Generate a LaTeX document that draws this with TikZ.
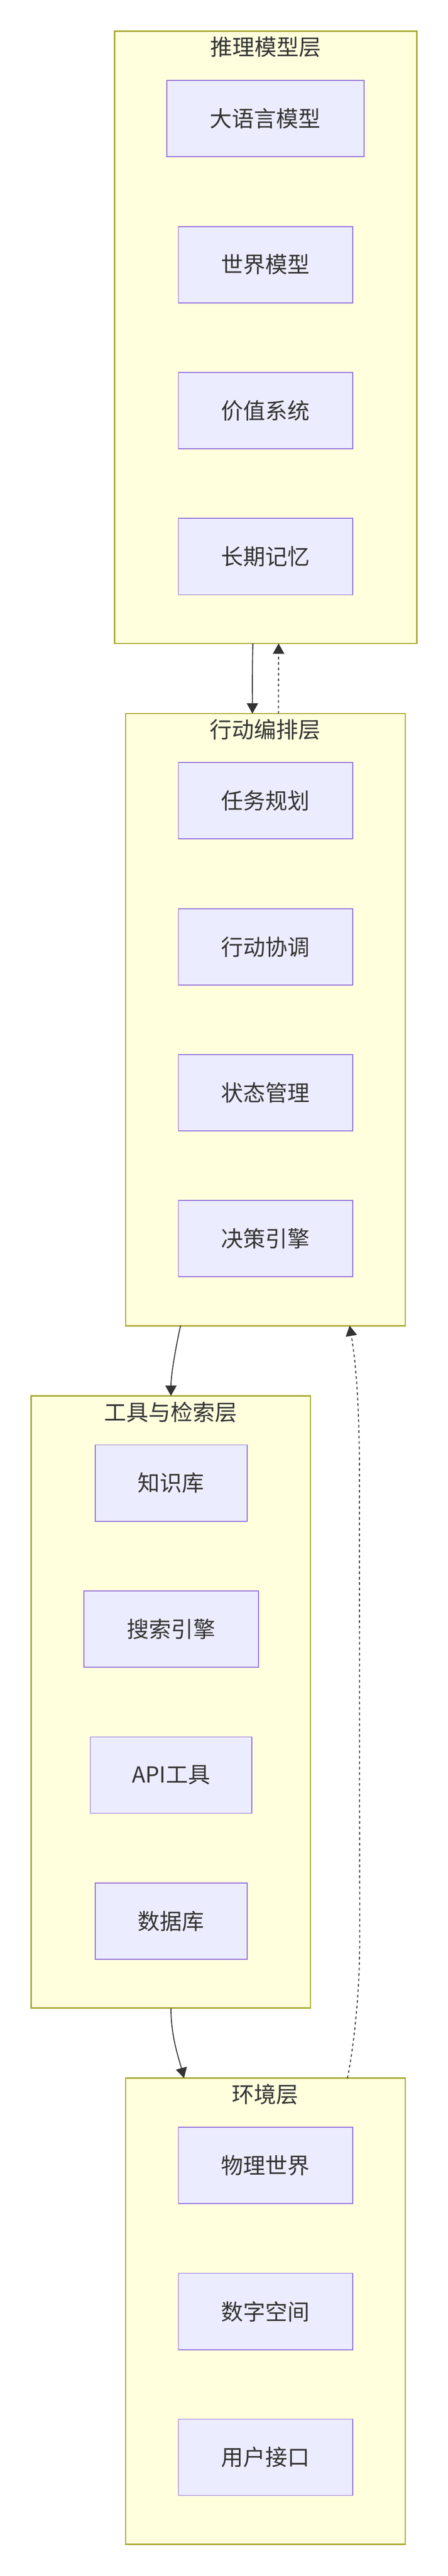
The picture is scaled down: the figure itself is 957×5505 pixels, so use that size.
\documentclass[tikz,border=0pt]{standalone}
\usepackage{fontspec}
\setmainfont{Noto Sans CJK SC}
\usetikzlibrary{calc,arrows.meta}
\definecolor{clfill}{HTML}{FFFFDE}
\definecolor{cldraw}{HTML}{AAAA33}
\definecolor{ndfill}{HTML}{ECECFF}
\definecolor{nddraw}{HTML}{9370DB}
\definecolor{txt}{HTML}{333333}
\definecolor{ln}{HTML}{333333}
\begin{document}
\begin{tikzpicture}[x=0.75pt,y=-0.75pt,
  every node/.style={inner sep=0pt,outer sep=0pt,text=txt,font=\fontsize{35.5pt}{40pt}\selectfont},
  cluster/.style={draw=cldraw,fill=clfill,line width=2.25pt,rectangle,minimum width={#1*0.75pt}},
  cltitle/.style={anchor=center},
  box/.style={draw=nddraw,fill=ndfill,line width=1.5pt,rectangle,minimum height={163*0.75pt},minimum width={#1*0.75pt}},
  edge/.style={draw=ln,line width=1.5pt,-{Triangle[length=16.5pt,width=18pt]}},
  dotedge/.style={edge,dash pattern=on 4.2pt off 4.5pt}
]
\useasboundingbox[fill=white] (0,0) rectangle (957,5505);

% clusters
\node[cluster=646,minimum height={1308*0.75pt}] (c1) at (568,721) {};
\node[cluster=598,minimum height={1308*0.75pt}] (c2) at (567.5,2179) {};
\node[cluster=597,minimum height={1308.5*0.75pt}] (c3) at (365.5,3637.2) {};
\node[cluster=598,minimum height={996*0.75pt}] (c4) at (567.5,4939) {};

\node[cltitle] (t1) at (568,100.5) {推理模型层};
\node[cltitle] (t2) at (567.5,1559) {行动编排层};
\node[cltitle] (t3) at (365.5,3017.5) {工具与检索层};
\node[cltitle] (t4) at (567.5,4475.5) {环境层};

% layer 1
\node[box=421] (llm) at (567.5,253.5) {大语言模型};
\node[box=373] (wm) at (568,565.5) {世界模型};
\node[box=373] (vs) at (568,877.7) {价值系统};
\node[box=373] (lm) at (568,1189.5) {长期记忆};

% layer 2
\node[box=373] (tp) at (568,1711) {任务规划};
\node[box=373] (ac) at (568,2023.5) {行动协调};
\node[box=373] (sm) at (568,2335.5) {状态管理};
\node[box=373] (de) at (568,2647) {决策引擎};

% layer 3
\node[box=324.5] (kb) at (366,3169.3) {知识库};
\node[box=373.6] (se) at (366,3481.5) {搜索引擎};
\node[box=345.5] (api) at (366,3793.5) {API工具};
\node[box=324.5] (db) at (366,4105.5) {数据库};

% layer 4
\node[box=373] (pw) at (568,4627.6) {物理世界};
\node[box=373] (ds) at (568,4939.7) {数字空间};
\node[box=373] (ui) at (568,5251.2) {用户接口};

% connectors
\draw[edge] ($(c1.south)+(-27.3,0)$) .. controls +(-1.5,55) and +(0,-55) .. ($(c2.north)+(-27.8,0)$);
\draw[dotedge] ($(c2.north)+(27.8,0)$) -- ($(c1.south)+(27.7,0)$);
\draw[edge] ($(c2.south)+(-181.5,0)$) .. controls +(-10,45) and +(0,-45) .. (c3.north);
\draw[edge] (c3.south) .. controls +(0,60) and +(-12,-45) .. ($(c4.north)+(-174,0)$);
\coordinate (w1) at (769,4150);
\coordinate (w2) at (768.5,3150);
\draw[dotedge] ($(c4.north)+(175.3,0)$) .. controls +(14,-70) and +(0,110) .. (w1) -- (w2) .. controls +(0,-160) and +(12,70) .. ($(c2.south)+(180,0)$);
\end{tikzpicture}
\end{document}
